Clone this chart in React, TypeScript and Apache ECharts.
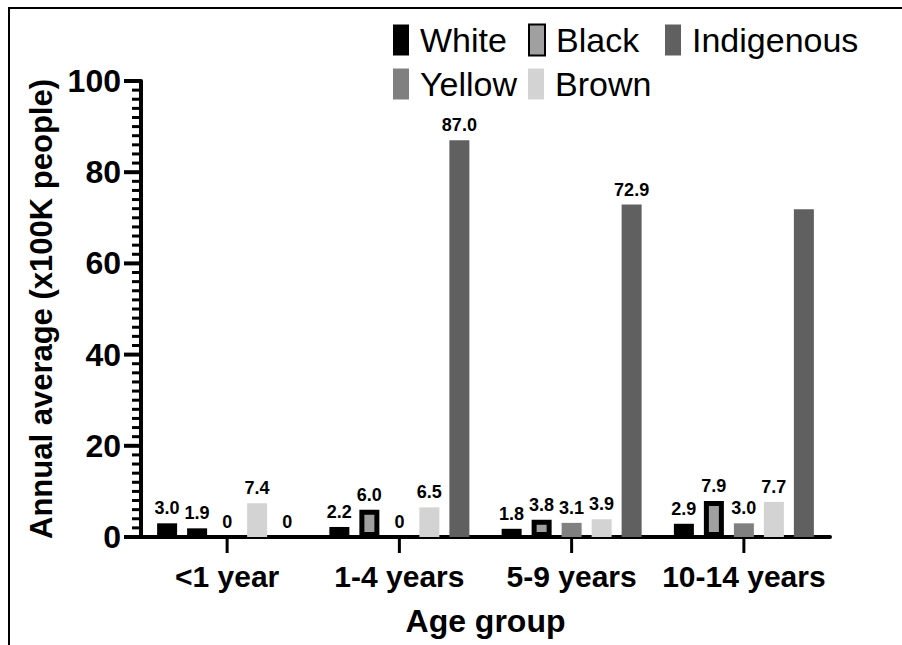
import React, { useEffect, useRef } from "react";
import * as echarts from "echarts";

const categories = ["<1 year", "1-4 years", "5-9 years", "10-14 years"];
const white = [3.0, 2.2, 1.8, 2.9];
const black = [1.9, 6.0, 3.8, 7.9];
const yellow = [0, 0, 3.1, 3.0];
const brown = [7.4, 6.5, 3.9, 7.7];
const indigenous = [0, 87.0, 72.9, 71.9];
const indigenousLabelShown = [true, true, true, false];
const yTicks = [0, 20, 40, 60, 80, 100];
const minorPerMajor = 10;

const FONT = "'Liberation Sans', Arial, Helvetica, sans-serif";

export default function App() {
  const ref = useRef<HTMLDivElement>(null);
  useEffect(() => {
    if (!ref.current) return;
    const chart = echarts.init(ref.current, undefined, { renderer: "svg" });
    const fmt = (p: any) => {
      const v = typeof p.value === "number" ? p.value : Number(p.value);
      return v === 0 ? "0" : v.toFixed(1);
    };
    const makeLabel = () => ({
      show: true,
      position: "top",
      distance: 6,
      formatter: fmt,
      fontFamily: FONT,
      fontWeight: "bold",
      fontSize: 18,
      color: "#000",
    });
    const mk = (name: string, data: any[], itemStyle: any) => ({
      name,
      type: "bar",
      data,
      barWidth: 20,
      barGap: "50%",
      itemStyle,
      label: makeLabel(),
    });
    const legendBase = (name: string, left: number, top: number) => ({
      data: [name],
      left,
      top,
      icon: "rect",
      itemWidth: 16,
      itemHeight: 31,
      padding: 0,
      selectedMode: false,
      textStyle: {
        fontFamily: FONT,
        fontSize: 34,
        color: "#000",
        padding: [0, 0, 0, 6],
      },
    });

    // tick positions on the value axis (major ticks and their subdivisions)
    const yTickMarks: { v: number; major: boolean }[] = [];
    for (let i = 0; i < yTicks.length; i++) {
      yTickMarks.push({ v: yTicks[i], major: true });
      if (i < yTicks.length - 1) {
        const step = (yTicks[i + 1] - yTicks[i]) / minorPerMajor;
        for (let k = 1; k < minorPerMajor; k++) {
          yTickMarks.push({ v: yTicks[i] + step * k, major: false });
        }
      }
    }

    const yTickSeries = {
      name: "yTicks",
      type: "custom",
      silent: true,
      z: 10,
      clip: false,
      data: yTickMarks.map((t) => [0, t.v, t.major ? 1 : 0]),
      encode: { x: 0, y: 1 },
      renderItem: (params: any, api: any) => {
        const v = api.value(1);
        const major = api.value(2) === 1;
        const p = api.coord([0, v]);
        const x0 = params.coordSys.x;
        const len = major ? 17 : 9;
        return {
          type: "line",
          shape: { x1: x0 - len, y1: p[1], x2: x0, y2: p[1] },
          style: { stroke: "#000", lineWidth: major ? 4 : 3 },
        };
      },
    };
    const xTickSeries = {
      name: "xTicks",
      type: "custom",
      silent: true,
      z: 10,
      clip: false,
      data: categories.map((_, i) => [i, 0]),
      encode: { x: 0, y: 1 },
      renderItem: (params: any, api: any) => {
        const p = api.coord([api.value(0), 0]);
        const y0 = params.coordSys.y + params.coordSys.height;
        return {
          type: "line",
          shape: { x1: p[0], y1: y0, x2: p[0], y2: y0 + 16 },
          style: { stroke: "#000", lineWidth: 3 },
        };
      },
    };

    chart.setOption({
      animation: false,
      backgroundColor: "#fff",
      legend: [
        legendBase("White", 393, 23),
        legendBase("Black", 528, 23),
        legendBase("Indigenous", 665, 23),
        legendBase("Yellow", 393, 67),
        legendBase("Brown", 528, 67),
      ],
      grid: { left: 141, right: 72, top: 81, bottom: 108, outerBoundsMode: "none" },
      xAxis: {
        type: "category",
        data: categories,
        name: "Age group",
        nameLocation: "middle",
        nameGap: 68,
        nameTextStyle: { fontFamily: FONT, fontWeight: "bold", fontSize: 32, color: "#000" },
        axisLine: { show: true, lineStyle: { color: "#000000", width: 4 } },
        axisTick: { show: false },
        axisLabel: { interval: 0, fontFamily: FONT, fontWeight: "bold", fontSize: 30, color: "#000", margin: 24 },
      },
      yAxis: {
        type: "value",
        min: yTicks[0],
        max: yTicks[yTicks.length - 1],
        interval: 20,
        name: "Annual average (x100K people)",
        nameLocation: "middle",
        nameGap: 82,
        nameTextStyle: { fontFamily: FONT, fontWeight: "bold", fontSize: 31, color: "#000" },
        axisLine: { show: true, lineStyle: { color: "#000000", width: 4 } },
        axisTick: { show: false },
        minorTick: { show: false },
        splitLine: { show: false },
        axisLabel: { fontFamily: FONT, fontWeight: "bold", fontSize: 32, color: "#000", margin: 20 },
      },
      series: [
        mk("White", white, { color: "#000000" }),
        mk("Black", black, { color: "#a0a0a0", borderColor: "#000", borderWidth: 5 }),
        mk("Yellow", yellow, { color: "#808080" }),
        mk("Brown", brown, { color: "#d3d3d3" }),
        mk(
          "Indigenous",
          indigenous.map((v, i) => ({ value: v, label: { show: indigenousLabelShown[i] } })),
          { color: "#606060" }
        ),
        yTickSeries,
        xTickSeries,
      ],
    });
    return () => chart.dispose();
  }, []);
  return (
    <div style={{ position: "fixed", left: 0, top: 0, width: 902, height: 645, overflow: "hidden", background: "#fff" }}>
      <div ref={ref} style={{ width: 902, height: 645 }} />
      <div
        style={{
          position: "absolute",
          left: 8,
          top: 7,
          width: 1000,
          height: 1000,
          borderTop: "2.5px solid #000",
          borderLeft: "2.5px solid #000",
          pointerEvents: "none",
        }}
      />
    </div>
  );
}
